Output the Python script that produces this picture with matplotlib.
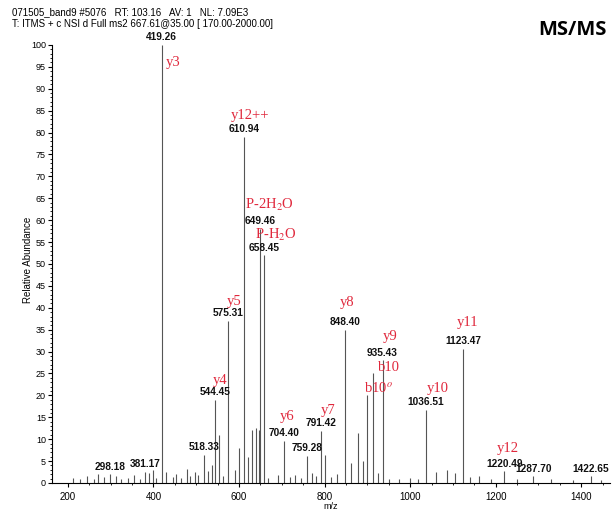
import matplotlib
matplotlib.use("Agg")
import matplotlib.pyplot as plt
from matplotlib.ticker import MultipleLocator

# labelled peaks (m/z, relative abundance)
peak_mz = [298.18, 381.17, 419.26, 518.33, 544.45, 575.31, 610.94, 649.46, 658.45,
           704.40, 759.28, 791.42, 848.40, 935.43, 1036.51, 1123.47, 1220.49,
           1287.70, 1422.65]
peak_int = [2.0, 2.5, 100, 6.5, 19.0, 37, 79, 58, 52,
            9.6, 6.2, 11.9, 35, 28, 16.7, 30.6, 2.7, 1.5, 1.5]

# unlabelled fragment lines (b10, b10 degree and the others)
minor_mz = [212, 228, 245, 262, 270, 284, 312, 325, 340, 355, 368, 390, 399, 405,
            430, 445, 452, 465, 478, 485, 496, 505, 528, 536, 553, 562, 590, 600,
            620, 630, 639, 646, 668, 690, 718, 730, 745, 770, 781, 801, 815, 830,
            862, 879, 889, 898, 914, 925, 950, 975, 1000, 1018, 1060, 1085, 1105,
            1140, 1160, 1190, 1250, 1330, 1380, 1445]
minor_int = [1.2, 0.8, 1.5, 1.0, 2.0, 1.3, 1.6, 0.9, 1.2, 1.8, 1.0, 2.2, 3.0, 1.2,
             2.5, 1.4, 2.0, 1.1, 3.2, 1.5, 2.4, 1.8, 2.8, 4.0, 11, 1.6, 3.0, 8,
             6, 12, 12.5, 12, 1.2, 1.8, 1.3, 1.9, 1.2, 2.2, 1.7, 6.5, 1.3, 2.0,
             4.5, 11.4, 5, 20, 25, 2.2, 1.0, 0.8, 1.2, 1.0, 2.4, 3.0, 2.2,
             1.3, 1.6, 1.0, 0.9, 0.8, 0.7, 0.6]

# ion labels (text, m/z, centre height)
ion_text = ["y3", "y12++", "P-2H$_2$O", "P-H$_2$O", "y5", "y4", "y6", "y7", "y8",
            "y9", "b10", "b10$^o$", "y10", "y11", "y12"]
ion_mz = [447, 625, 670, 685, 589, 556, 713, 808, 852, 954, 951, 926, 1064, 1134, 1227]
ion_y = [96, 83.8, 63.5, 56.7, 41.5, 23.3, 15.2, 16.5, 41.3, 33.4, 26.3, 21.5, 21.5, 36.7, 7.8]

plt.rcParams['font.family'] = ['Liberation Sans', 'DejaVu Sans']
plt.rcParams['mathtext.fontset'] = 'stix'

fig = plt.figure(figsize=(6.13, 5.16), dpi=100)
ax = fig.add_axes([0.085, 0.064, 0.91, 0.849])

ax.vlines(minor_mz, 0, minor_int, color='#555555', lw=0.8)
ax.vlines(peak_mz, 0, peak_int, color='#555555', lw=0.8)

for mz, h in zip(peak_mz, peak_int):
    ax.text(mz, h + 0.6, f"{mz:.2f}", ha='center', va='bottom', fontsize=7.3,
            fontweight='bold', color='#111111', clip_on=False)

for t, mz, h in zip(ion_text, ion_mz, ion_y):
    ax.text(mz, h, t, ha='center', va='center', fontsize=10.5, color='#e0283c',
            family='Liberation Serif')

ax.set_xlim(163, 1467)
ax.set_ylim(0, 100)
ax.xaxis.set_major_locator(MultipleLocator(200))
ax.xaxis.set_minor_locator(MultipleLocator(50))
ax.yaxis.set_major_locator(MultipleLocator(5))
ax.yaxis.set_minor_locator(MultipleLocator(1))
ax.tick_params(axis='both', which='major', labelsize=7, length=3)
ax.tick_params(axis='y', which='major', labelsize=6.5, pad=1.5)
ax.tick_params(axis='both', which='minor', length=1.5)
ax.spines['top'].set_visible(False)
ax.spines['right'].set_visible(False)
ax.set_xlabel("m/z", fontsize=6.5, labelpad=0)

fig.text(28 / 613, 0.496, "Relative Abundance", fontsize=7, rotation=90,
         ha='center', va='center')
fig.text(0.02, 0.977, "071505_band9 #5076   RT: 103.16   AV: 1   NL: 7.09E3",
         fontsize=7, va='center')
fig.text(0.02, 0.953, "T: ITMS + c NSI d Full ms2 667.61@35.00 [ 170.00-2000.00]",
         fontsize=7, va='center')
fig.text(0.99, 0.942, "MS/MS", fontsize=14.5, fontweight='bold', ha='right',
         va='center', family=['Open Sans', 'DejaVu Sans'])

fig.savefig("out.png", dpi=100)
